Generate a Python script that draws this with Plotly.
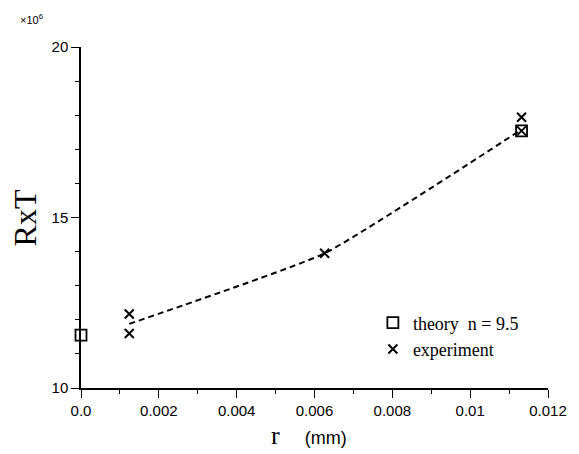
import plotly.graph_objects as go

# Data
theory_x = [0.0, 0.01132]
theory_y = [11.55, 17.54]
exp_x = [0.00124, 0.00124, 0.00626, 0.01132, 0.01132]
exp_y = [12.17, 11.60, 13.95, 17.94, 17.54]
fit_x = [0.00124, 0.00626, 0.01132]
fit_y = [11.88, 13.95, 17.58]

x_tickvals = [0, 0.002, 0.004, 0.006, 0.008, 0.010, 0.012]
x_ticktext = ["0.0", "0.002", "0.004", "0.006", "0.008", "0.01", "0.012"]
y_tickvals = [10, 15, 20]
y_ticktext = ["10", "15", "20"]

serif = "Liberation Serif"
sans = "Liberation Sans"

fig = go.Figure()
fig.add_trace(go.Scatter(
    x=fit_x, y=fit_y, mode="lines", showlegend=False,
    line=dict(color="black", width=2, dash="6px,4px", shape="spline", smoothing=0.4),
    hoverinfo="skip"))
fig.add_trace(go.Scatter(
    x=theory_x, y=theory_y, mode="markers", name="theory  n = 9.5",
    marker=dict(symbol="square-open", size=11, color="black", line=dict(width=1.8)),
    cliponaxis=False))
fig.add_trace(go.Scatter(
    x=exp_x, y=exp_y, mode="markers", name="experiment",
    marker=dict(symbol="x-thin-open", size=9, color="black", line=dict(width=2, color="black")),
    cliponaxis=False))

fig.update_layout(
    width=579, height=454,
    margin=dict(l=81, r=23, t=47, b=66),
    paper_bgcolor="white", plot_bgcolor="white",
    font=dict(family=sans, size=14, color="black"),
    legend=dict(x=0.625, y=0.245, xanchor="left", yanchor="top",
                font=dict(family=serif, size=18, color="black"),
                bgcolor="rgba(0,0,0,0)", itemwidth=30, tracegroupgap=0),
    xaxis=dict(range=[0, 0.012], showgrid=False, zeroline=False,
               showline=True, linecolor="black", linewidth=1.5,
               ticks="outside", ticklen=8, tickwidth=1.3, tickcolor="black",
               tickvals=x_tickvals, ticktext=x_ticktext,
               tickfont=dict(family=sans, size=15),
               minor=dict(dtick=0.001, ticks="outside", ticklen=4, tickwidth=1, tickcolor="black")),
    yaxis=dict(range=[10, 20], showgrid=False, zeroline=False,
               showline=True, linecolor="black", linewidth=1.5,
               ticks="outside", ticklen=8, tickwidth=1.3, tickcolor="black",
               tickvals=y_tickvals, ticktext=y_ticktext,
               tickfont=dict(family=sans, size=15),
               minor=dict(dtick=1, ticks="outside", ticklen=4, tickwidth=1, tickcolor="black")),
    annotations=[
        dict(text="RxT", xref="paper", yref="paper", x=-0.12, y=0.5,
             xanchor="center", yanchor="middle",
             textangle=-90, showarrow=False, font=dict(family=serif, size=32)),
        dict(text="<span style='font-family:Liberation Serif;font-size:26px'>r</span>     (mm)",
             xref="paper", yref="paper", x=0.488, y=-0.138,
             xanchor="center", yanchor="middle", showarrow=False,
             font=dict(family=sans, size=18)),
        dict(text="×10<sup>6</sup>", xref="paper", yref="paper", x=-0.105, y=1.082,
             xanchor="center", yanchor="middle",
             showarrow=False, font=dict(family=sans, size=11)),
    ],
)

fig.write_html("out.html")
